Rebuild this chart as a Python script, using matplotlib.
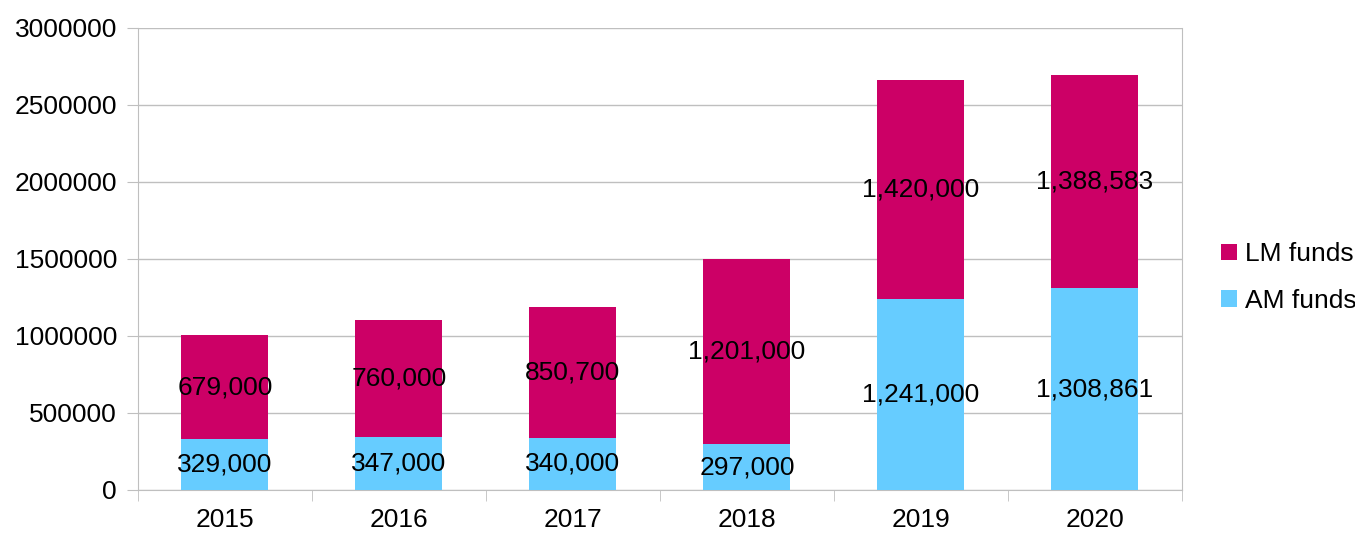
import numpy as np
import matplotlib.pyplot as plt

plt.rcParams['font.family'] = ['Liberation Sans', 'DejaVu Sans']

years = ['2015', '2016', '2017', '2018', '2019', '2020']
am_funds = [329000, 347000, 340000, 297000, 1241000, 1308861]
lm_funds = [679000, 760000, 850700, 1201000, 1420000, 1388583]

pink = '#CC0066'
blue = '#66CCFF'
grid_col = '#BFBFBF'

fig = plt.figure(figsize=(13.55, 5.33), dpi=100)
ax = fig.add_axes([0.1018, 0.0807, 0.7705, 0.8668])

x = np.arange(len(years))
b1 = ax.bar(x, am_funds, width=0.5, color=blue, label='AM funds', zorder=3)
b2 = ax.bar(x, lm_funds, width=0.5, bottom=am_funds, color=pink, label='LM funds', zorder=3)

for bars, vals in ((b1, am_funds), (b2, lm_funds)):
    ax.bar_label(bars, labels=[f'{v:,}' for v in vals], label_type='center', fontsize=19, color='black')

ax.set_xlim(-0.5, len(years) - 0.5)
ax.set_ylim(0, 3000000)
ax.set_yticks(np.arange(0, 3000001, 500000))
ax.set_yticklabels([str(v) for v in range(0, 3000001, 500000)], fontsize=19)
ax.set_xticks(x)
ax.set_xticklabels(years, fontsize=19)
ax.set_xticks(np.arange(-0.5, len(years), 1), minor=True)
ax.tick_params(axis='x', which='major', length=0, pad=13)
ax.tick_params(axis='x', which='minor', length=8, color=grid_col)
ax.tick_params(axis='y', length=8, color=grid_col, pad=7)

ax.yaxis.grid(True, color=grid_col, linewidth=1, zorder=0)
for s in ['left', 'bottom', 'right']:
    ax.spines[s].set_color(grid_col)
ax.spines['top'].set_visible(False)

handles, labels = ax.get_legend_handles_labels()
ax.legend(handles[::-1], labels[::-1], loc='center left', bbox_to_anchor=(1.015, 0.46),
          frameon=False, fontsize=19, handlelength=0.6, handleheight=0.6,
          handletextpad=0.3, labelspacing=0.85)

fig.savefig('out.png', dpi=100)
